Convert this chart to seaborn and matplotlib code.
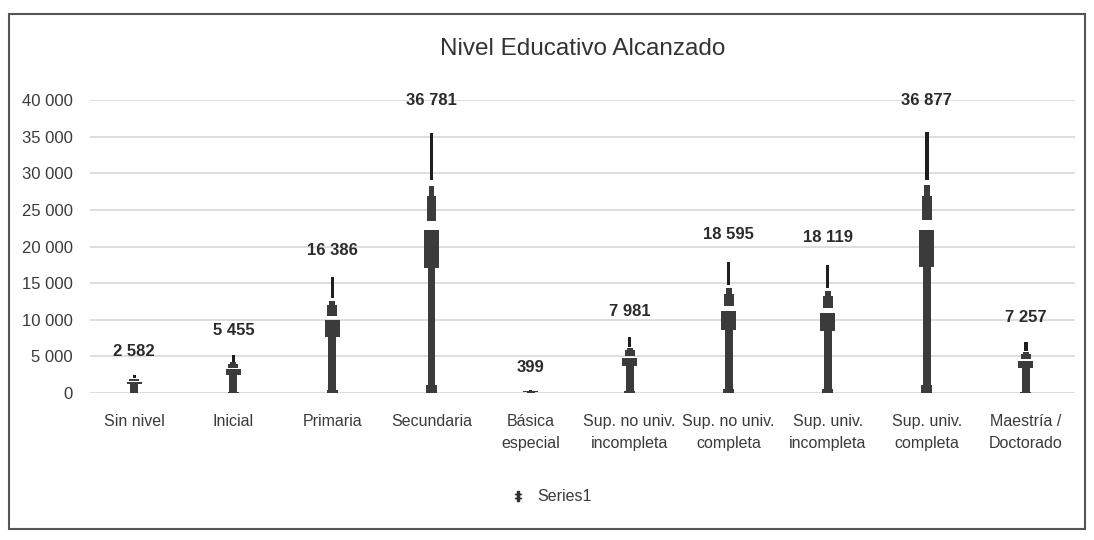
import numpy as np
import pandas as pd
import matplotlib
matplotlib.use("Agg")
import matplotlib.pyplot as plt
import seaborn as sns
from matplotlib.lines import Line2D
from matplotlib.patches import Rectangle

# datos del gráfico
niveles = ["Sin nivel", "Inicial", "Primaria", "Secundaria", "Básica\nespecial",
           "Sup. no univ.\nincompleta", "Sup. no univ.\ncompleta",
           "Sup. univ.\nincompleta", "Sup. univ.\ncompleta", "Maestría /\nDoctorado"]
personas = [2582, 5455, 16386, 36781, 399, 7981, 18595, 18119, 36877, 7257]
y_ticks = [0, 5000, 10000, 15000, 20000, 25000, 30000, 35000, 40000]

sns.set_theme(style="white")
plt.rcParams['font.family'] = ['Liberation Sans', 'DejaVu Sans']

df = pd.DataFrame({"nivel": niveles, "valor": personas})
v = df["valor"].to_numpy()
x = np.arange(len(v))

fig = plt.figure(figsize=(10.94, 5.40), dpi=100)
ax = fig.add_axes([0.082, 0.272, 0.901, 0.543])

color_fig = "#3b3b3b"
kw = dict(color=color_fig, linewidth=0, zorder=3)
# piernas (figura estirada tipo pictograma)
legs = df.assign(alto=v * 0.48)
sns.barplot(data=legs, x="nivel", y="alto", ax=ax, color=color_fig,
            width=0.08, saturation=1, linewidth=0, zorder=3)
ax.bar(x, v * 0.03, bottom=0, width=0.11, **kw)                 # pie
ax.bar(x, v * 0.14, bottom=v * 0.465, width=0.15, **kw)         # torso
ax.bar(x, v * 0.09, bottom=v * 0.64, width=0.1, **kw)           # cabeza
ax.bar(x, v * 0.04, bottom=v * 0.73, width=0.06, **kw)
ax.bar(x, v * 0.175, bottom=v * 0.79, width=0.035,
       color="#1e1e1e", linewidth=0, zorder=3)                  # sombrero

# etiquetas de datos
for xi, val in zip(x, v):
    ax.annotate(f"{val:,}".replace(",", " "), (xi, val), xytext=(0, 11),
                textcoords="offset points", ha="center", va="bottom",
                fontsize=12, fontweight="bold", color="#2b2b2b")

ax.set_ylim(0, 40000)
ax.set_xlim(-0.45, 9.5)
ax.set_yticks(y_ticks)
ax.set_yticklabels([f"{t:,}".replace(",", " ") for t in y_ticks])
ax.yaxis.grid(True, color="#d4d4d4", linewidth=1.1, zorder=0)
ax.set_axisbelow(True)
for s in ax.spines.values():
    s.set_visible(False)
ax.tick_params(axis="y", length=0, pad=12, labelsize=12, labelcolor="#3a3a3a")
ax.tick_params(axis="x", length=0, pad=15, labelsize=11.5, labelcolor="#3a3a3a")
for lbl in ax.get_xticklabels():
    lbl.set_linespacing(1.6)
ax.set_xlabel("")
ax.set_ylabel("")

ax.set_title("Nivel Educativo Alcanzado", fontsize=17.5, color="#333333", pad=32)

# leyenda
handle = Line2D([], [], marker="$\u2021$", linestyle="none", color="#333333", markersize=7)
fig.legend([handle], ["Series1"], loc="center", bbox_to_anchor=(0.5, 0.08),
           frameon=False, fontsize=11.5, handletextpad=0.2, labelcolor="#3a3a3a")

# marco del gráfico
fig.patches.append(Rectangle((0.008, 0.02), 0.984, 0.955, transform=fig.transFigure,
                             fill=False, edgecolor="#555555", linewidth=1.5))

fig.savefig("out.png", dpi=100)
